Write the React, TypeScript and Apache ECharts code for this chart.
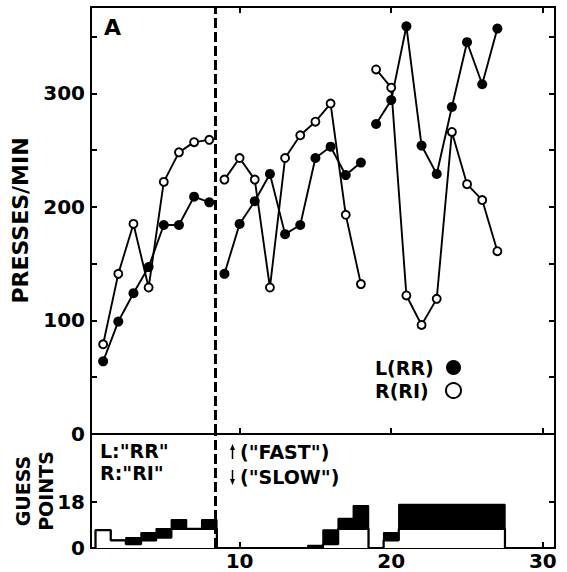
import { useEffect, useRef } from 'react';
import * as echarts from 'echarts';

// Sessions 1..27
const sessions = [1, 2, 3, 4, 5, 6, 7, 8, 9, 10, 11, 12, 13, 14, 15, 16, 17, 18, 19, 20, 21, 22, 23, 24, 25, 26, 27];
// Presses per minute, L(RR) filled circles
const pressesL = [64, 99, 124, 147, 184, 184, 209, 204, 141, 185, 205, 229, 176, 184, 243, 253, 228, 239, 273, 294, 359, 254, 229, 288, 345, 308, 357];
// Presses per minute, R(RI) open circles
const pressesR = [79, 141, 185, 129, 222, 248, 257, 259, 224, 243, 224, 129, 243, 263, 275, 291, 193, 132, 321, 305, 122, 96, 119, 266, 220, 206, 161];
// Phases (first and last session of each connected segment)
const blocks = [[1, 8], [9, 18], [19, 27]];
// Guess points: lower (white) level and upper (black band top)
const guessLower = [7, 3, 1.5, 3, 4, 7.5, 7.5, 7.5, 0, 0, 0, 0, 0, 0, 0, 1.5, 7.5, 7.5, 0, 3, 7.5, 7.5, 7.5, 7.5, 7.5, 7.5, 7.5];
const guessUpper = [7, 3, 4, 6, 7.5, 11, 7.5, 11, 0, 0, 0, 0, 0, 0, 1, 7, 11.5, 16.5, 0, 6, 17, 17, 17, 17, 17, 17, 17];
const presTickValues = [50, 100, 150, 200, 250, 300, 350];
const presLabelValues = [0, 100, 200, 300];
const xTickValues = [10, 20, 30];
const guessTickValues = [18];
const guessLabelValues = [0, 18];
const phaseBoundary = 8.4;

const FONT = 'DejaVu Sans';

function stepRuns(): number[][] {
  const runs: number[][] = [];
  let start = -1;
  sessions.forEach((s, i) => {
    if (guessUpper[i] > 0) {
      if (start < 0) start = s;
      if (i === sessions.length - 1 || guessUpper[i + 1] <= 0) {
        runs.push([start, s]);
        start = -1;
      }
    }
  });
  return runs;
}

function stepPoints(vals: number[], s: number, e: number) {
  const pts: number[][] = [[s - 0.5, 0]];
  for (let k = s; k <= e; k++) {
    const v = vals[sessions.indexOf(k)];
    pts.push([k - 0.5, v], [k + 0.5, v]);
  }
  pts.push([e + 0.5, 0]);
  return pts;
}

export default function App() {
  const ref = useRef<HTMLDivElement>(null);
  useEffect(() => {
    if (!ref.current) return;
    const chart = echarts.init(ref.current, null, { renderer: 'svg' });
    const axisLine = { show: true, onZero: false, lineStyle: { color: '#000', width: 2 } };
    const tickBase = { show: true, inside: true, length: 6, lineStyle: { color: '#000', width: 2 } };
    const labelBase = { color: '#000', fontFamily: FONT, fontWeight: 'bold' as const, fontSize: 20 };

    const series: any[] = [];
    const dashed = {
      silent: true,
      symbol: ['none', 'none'],
      label: { show: false },
      lineStyle: { color: '#000', width: 3, type: [10, 4] },
      data: [{ xAxis: phaseBoundary }],
    };
    blocks.forEach(([s, e], bi) => {
      const idx = sessions.filter((x) => x >= s && x <= e);
      series.push({
        type: 'line',
        name: 'L(RR)',
        xAxisIndex: 0,
        yAxisIndex: 0,
        data: idx.map((x) => [x, pressesL[sessions.indexOf(x)]]),
        symbol: 'circle',
        symbolSize: 10,
        lineStyle: { color: '#000', width: 1.9 },
        itemStyle: { color: '#000' },
        z: 3,
        markLine: bi === 0 ? dashed : undefined,
      });
      series.push({
        type: 'line',
        name: 'R(RI)',
        xAxisIndex: 0,
        yAxisIndex: 0,
        data: idx.map((x) => [x, pressesR[sessions.indexOf(x)]]),
        symbol: 'circle',
        symbolSize: 8,
        lineStyle: { color: '#000', width: 1.9 },
        itemStyle: { color: '#fff', borderColor: '#000', borderWidth: 1.9 },
        z: 4,
      });
    });
    stepRuns().forEach(([s, e], ri) => {
      series.push({
        type: 'line',
        name: 'guessUpper' + ri,
        xAxisIndex: 1,
        yAxisIndex: 2,
        data: stepPoints(guessUpper, s, e),
        symbol: 'none',
        lineStyle: { color: '#000', width: 1.5 },
        areaStyle: { color: '#000', opacity: 1 },
        z: 2,
        markLine: ri === 0 ? dashed : undefined,
      });
      series.push({
        type: 'line',
        name: 'guessLower' + ri,
        xAxisIndex: 1,
        yAxisIndex: 2,
        data: stepPoints(guessLower, s, e),
        symbol: 'none',
        lineStyle: { color: '#000', width: 2.2 },
        areaStyle: { color: '#fff', opacity: 1 },
        z: 3,
      });
    });

    const textEl = (text: string, x: number, y: number, size = 19) => ({
      type: 'text',
      x,
      y,
      style: {
        text,
        fill: '#000',
        font: `bold ${size}px "${FONT}"`,
        verticalAlign: 'middle',
        align: 'left',
      },
    });

    chart.setOption({
      animation: false,
      textStyle: { fontFamily: FONT, fontWeight: 'bold' },
      grid: [
        { left: 91, right: 12, top: 7, height: 427, outerBoundsMode: 'none' },
        { left: 91, right: 12, top: 434, height: 114, outerBoundsMode: 'none' },
      ],
      legend: {
        orient: 'vertical',
        left: 370,
        top: 353,
        align: 'right',
        icon: 'circle',
        itemWidth: 15,
        itemHeight: 15,
        itemGap: 4,
        selectedMode: false,
        formatter: '{n|{name}}',
        textStyle: {
          ...labelBase,
          fontSize: 19,
          rich: { n: { width: 66, align: 'left', color: '#000', fontFamily: FONT, fontWeight: 'bold', fontSize: 19 } },
        },
        data: [
          { name: 'L(RR)', itemStyle: { color: '#000', borderWidth: 0 } },
          { name: 'R(RI)', itemStyle: { color: '#fff', borderColor: '#000', borderWidth: 2 } },
        ],
      },
      xAxis: [
        {
          type: 'value', gridIndex: 0, position: 'bottom', min: 0.2, max: 30.8,
          axisLine, splitLine: { show: false },
          axisTick: { ...tickBase, customValues: xTickValues },
          axisLabel: { show: false },
        },
        {
          type: 'value', gridIndex: 1, position: 'bottom', min: 0.2, max: 30.8,
          axisLine, splitLine: { show: false },
          axisTick: { ...tickBase, customValues: xTickValues },
          axisLabel: { ...labelBase, margin: 3, customValues: xTickValues },
        },
        {
          type: 'value', gridIndex: 0, position: 'top', min: 0.2, max: 30.8,
          axisLine, splitLine: { show: false },
          axisTick: { ...tickBase, customValues: xTickValues },
          axisLabel: { show: false },
        },
      ],
      yAxis: [
        {
          type: 'value', gridIndex: 0, position: 'left', min: 0, max: 376,
          axisLine, splitLine: { show: false },
          axisTick: { ...tickBase, customValues: presTickValues },
          axisLabel: { ...labelBase, margin: 6, customValues: presLabelValues },
          name: 'PRESSES/MIN', nameLocation: 'middle', nameRotate: 90, nameGap: 60,
          nameMoveOverlap: false,
          nameTextStyle: { color: '#000', fontFamily: FONT, fontWeight: 'bold', fontSize: 22 },
        },
        {
          type: 'value', gridIndex: 0, position: 'right', min: 0, max: 376,
          axisLine, splitLine: { show: false },
          axisTick: { ...tickBase, customValues: presTickValues },
          axisLabel: { show: false },
        },
        {
          type: 'value', gridIndex: 1, position: 'left', min: 0, max: 44.5,
          axisLine, splitLine: { show: false },
          axisTick: { ...tickBase, customValues: guessTickValues },
          axisLabel: { ...labelBase, margin: 6, customValues: guessLabelValues },
          name: 'GUESS\nPOINTS', nameLocation: 'middle', nameRotate: 90, nameGap: 34,
          nameMoveOverlap: false,
          nameTextStyle: { color: '#000', fontFamily: FONT, fontWeight: 'bold', fontSize: 19, lineHeight: 23 },
        },
        {
          type: 'value', gridIndex: 1, position: 'right', min: 0, max: 44.5,
          axisLine, splitLine: { show: false },
          axisTick: { ...tickBase, customValues: guessTickValues },
          axisLabel: { show: false },
        },
      ],
      graphic: [
        textEl('A', 104, 27.5, 22),
        textEl('L:"RR"', 100, 451),
        textEl('R:"RI"', 100, 472.5),
        textEl('("FAST")', 240, 451.7),
        textEl('("SLOW")', 240, 476.7),
        { type: 'line', shape: { x1: 232.5, y1: 459, x2: 232.5, y2: 448 }, style: { stroke: '#000', lineWidth: 1.5 } },
        { type: 'polygon', shape: { points: [[230, 450], [235, 450], [232.5, 444]] }, style: { fill: '#000' } },
        { type: 'line', shape: { x1: 232.5, y1: 470, x2: 232.5, y2: 481 }, style: { stroke: '#000', lineWidth: 1.5 } },
        { type: 'polygon', shape: { points: [[230, 479], [235, 479], [232.5, 485]] }, style: { fill: '#000' } },
      ],
      series,
    });
    return () => chart.dispose();
  }, []);
  return <div ref={ref} style={{ width: 567, height: 572, position: 'absolute', left: 0, top: 0 }} />;
}
